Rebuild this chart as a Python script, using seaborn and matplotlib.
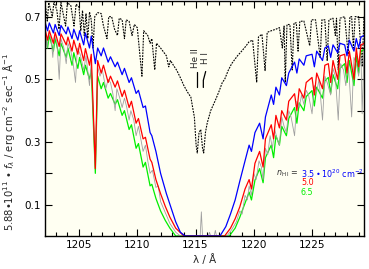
import matplotlib
matplotlib.use("Agg")
import matplotlib.pyplot as plt
import seaborn as sns
from matplotlib.ticker import FixedLocator, MultipleLocator, FuncFormatter

# ---------------- data (local extrema) ----------------
blue_pts = [(1202.08, 0.683), (1202.3, 0.655), (1202.45, 0.68), (1202.8, 0.648), (1202.95, 0.675),
            (1203.3, 0.64), (1203.45, 0.672), (1203.9, 0.645), (1204.05, 0.667), (1204.4, 0.63),
            (1204.55, 0.66), (1204.9, 0.625), (1205.05, 0.655), (1205.4, 0.61), (1205.55, 0.648),
            (1205.9, 0.60), (1206.05, 0.638), (1206.4, 0.55), (1206.6, 0.60), (1206.9, 0.575),
            (1207.1, 0.60), (1207.5, 0.555), (1207.7, 0.572), (1208.1, 0.54), (1208.3, 0.555),
            (1208.7, 0.515), (1208.9, 0.535), (1209.3, 0.49), (1209.5, 0.505), (1209.9, 0.455),
            (1210.1, 0.465), (1210.5, 0.41), (1210.7, 0.415), (1211.1, 0.33), (1211.25, 0.32),
            (1211.6, 0.27), (1212.0, 0.20), (1212.5, 0.135), (1212.9, 0.09), (1213.3, 0.045),
            (1213.7, 0.012), (1214.1, 0.0), (1217.1, 0.0), (1217.6, 0.03), (1218.0, 0.07),
            (1218.4, 0.115), (1218.8, 0.175), (1219.25, 0.24), (1219.6, 0.29), (1219.8, 0.27),
            (1220.1, 0.33), (1220.5, 0.36), (1220.8, 0.31), (1221.0, 0.38), (1221.5, 0.45),
            (1221.7, 0.42), (1221.9, 0.475), (1222.2, 0.45), (1222.4, 0.505), (1222.8, 0.48),
            (1223.0, 0.52), (1223.5, 0.555), (1223.7, 0.52), (1223.9, 0.565), (1224.3, 0.545),
            (1224.5, 0.575), (1225.0, 0.58), (1225.2, 0.54), (1225.4, 0.59), (1225.9, 0.56),
            (1226.1, 0.60), (1226.4, 0.607), (1226.6, 0.57), (1226.8, 0.61), (1227.2, 0.585),
            (1227.4, 0.615), (1227.8, 0.61), (1228.0, 0.575), (1228.2, 0.625), (1228.6, 0.59),
            (1228.8, 0.63), (1229.0, 0.60), (1229.2, 0.635), (1229.46, 0.64)]

red_pts = [(1202.08, 0.66), (1202.3, 0.625), (1202.45, 0.655), (1202.8, 0.615), (1202.95, 0.65),
           (1203.3, 0.605), (1203.45, 0.645), (1203.9, 0.61), (1204.05, 0.635), (1204.4, 0.59),
           (1204.55, 0.625), (1204.9, 0.58), (1205.05, 0.615), (1205.4, 0.56), (1205.55, 0.598),
           (1205.9, 0.545), (1206.05, 0.58), (1206.4, 0.215), (1206.6, 0.56), (1206.9, 0.52),
           (1207.1, 0.545), (1207.5, 0.49), (1207.7, 0.51), (1208.1, 0.475), (1208.3, 0.495),
           (1208.7, 0.445), (1208.9, 0.465), (1209.3, 0.41), (1209.5, 0.43), (1209.9, 0.36),
           (1210.1, 0.375), (1210.5, 0.31), (1210.7, 0.315), (1211.1, 0.245), (1211.25, 0.235),
           (1211.6, 0.18), (1212.0, 0.135), (1212.4, 0.095), (1212.8, 0.06), (1213.3, 0.025),
           (1214.0, 0.0), (1217.5, 0.0), (1218.0, 0.025), (1218.4, 0.055), (1218.8, 0.093),
           (1219.25, 0.15), (1219.6, 0.18), (1219.8, 0.15), (1220.1, 0.232), (1220.5, 0.27),
           (1220.8, 0.22), (1221.0, 0.31), (1221.5, 0.355), (1221.7, 0.31), (1221.9, 0.385),
           (1222.2, 0.345), (1222.4, 0.40), (1222.8, 0.37), (1223.0, 0.43), (1223.5, 0.454),
           (1223.7, 0.40), (1223.9, 0.47), (1224.3, 0.44), (1224.5, 0.49), (1225.0, 0.506),
           (1225.2, 0.45), (1225.4, 0.52), (1225.9, 0.47), (1226.1, 0.545), (1226.4, 0.55),
           (1226.6, 0.49), (1226.8, 0.56), (1227.2, 0.50), (1227.4, 0.575), (1227.8, 0.58),
           (1228.0, 0.52), (1228.2, 0.59), (1228.6, 0.50), (1228.8, 0.60), (1229.0, 0.54),
           (1229.2, 0.61), (1229.46, 0.615)]

green_pts = [(1202.08, 0.645), (1202.3, 0.60), (1202.45, 0.64), (1202.8, 0.59), (1202.95, 0.63),
             (1203.3, 0.575), (1203.45, 0.615), (1203.9, 0.57), (1204.05, 0.60), (1204.4, 0.545),
             (1204.55, 0.585), (1204.9, 0.535), (1205.05, 0.57), (1205.4, 0.515), (1205.55, 0.545),
             (1205.9, 0.50), (1206.05, 0.53), (1206.4, 0.20), (1206.6, 0.51), (1206.9, 0.47),
             (1207.1, 0.49), (1207.5, 0.44), (1207.7, 0.455), (1208.1, 0.42), (1208.3, 0.435),
             (1208.7, 0.385), (1208.9, 0.40), (1209.3, 0.34), (1209.5, 0.355), (1209.9, 0.28),
             (1210.1, 0.295), (1210.5, 0.22), (1210.7, 0.235), (1211.1, 0.16), (1211.25, 0.165),
             (1211.6, 0.12), (1212.0, 0.08), (1212.4, 0.05), (1212.8, 0.025), (1213.3, 0.0),
             (1217.9, 0.0), (1218.4, 0.025), (1218.8, 0.06), (1219.25, 0.105), (1219.6, 0.14),
             (1219.8, 0.115), (1220.1, 0.178), (1220.5, 0.215), (1220.8, 0.17), (1221.0, 0.25),
             (1221.5, 0.29), (1221.7, 0.25), (1221.9, 0.32), (1222.2, 0.29), (1222.4, 0.35),
             (1222.8, 0.32), (1223.0, 0.375), (1223.5, 0.41), (1223.7, 0.36), (1223.9, 0.425),
             (1224.3, 0.40), (1224.5, 0.445), (1225.0, 0.464), (1225.2, 0.415), (1225.4, 0.475),
             (1225.9, 0.44), (1226.1, 0.495), (1226.4, 0.506), (1226.6, 0.455), (1226.8, 0.515),
             (1227.2, 0.47), (1227.4, 0.535), (1227.8, 0.55), (1228.0, 0.49), (1228.2, 0.56),
             (1228.6, 0.48), (1228.8, 0.575), (1229.0, 0.52), (1229.2, 0.59), (1229.46, 0.595)]

obs_pts = [(1202.08, 0.655), (1202.25, 0.60), (1202.4, 0.645), (1202.6, 0.63), (1202.75, 0.57),
           (1202.9, 0.64), (1203.1, 0.62), (1203.3, 0.50), (1203.45, 0.63), (1203.7, 0.60),
           (1203.9, 0.55), (1204.05, 0.615), (1204.3, 0.59), (1204.5, 0.55), (1204.7, 0.49),
           (1204.85, 0.60), (1205.1, 0.58), (1205.4, 0.53), (1205.6, 0.575), (1205.9, 0.48),
           (1206.05, 0.56), (1206.4, 0.22), (1206.6, 0.54), (1206.8, 0.51), (1207.0, 0.53),
           (1207.3, 0.47), (1207.5, 0.50), (1207.7, 0.49), (1207.9, 0.455), (1208.1, 0.40),
           (1208.25, 0.47), (1208.5, 0.44), (1208.7, 0.41), (1208.9, 0.44), (1209.1, 0.41),
           (1209.3, 0.37), (1209.45, 0.40), (1209.7, 0.37), (1209.9, 0.32), (1210.1, 0.35),
           (1210.3, 0.31), (1210.5, 0.27), (1210.7, 0.29), (1210.9, 0.24), (1211.1, 0.20),
           (1211.3, 0.21), (1211.6, 0.155), (1211.8, 0.16), (1212.0, 0.11), (1212.4, 0.075),
           (1212.8, 0.04), (1213.3, 0.012), (1213.7, 0.0), (1215.4, 0.0), (1215.5, 0.077),
           (1215.6, 0.0), (1216.1, 0.0), (1216.2, 0.012), (1216.3, 0.0), (1216.6, 0.0),
           (1216.7, 0.018), (1216.8, 0.0), (1217.7, 0.0), (1218.1, 0.02), (1218.5, 0.045),
           (1218.8, 0.08), (1219.0, 0.07), (1219.25, 0.13), (1219.45, 0.115), (1219.6, 0.16),
           (1219.8, 0.13), (1220.0, 0.20), (1220.2, 0.18), (1220.45, 0.24), (1220.65, 0.22),
           (1220.8, 0.18), (1221.0, 0.28), (1221.2, 0.26), (1221.4, 0.32), (1221.6, 0.28),
           (1221.8, 0.34), (1222.0, 0.31), (1222.2, 0.29), (1222.4, 0.38), (1222.6, 0.35),
           (1222.8, 0.33), (1223.0, 0.40), (1223.2, 0.38), (1223.5, 0.32), (1223.7, 0.43),
           (1223.9, 0.41), (1224.1, 0.45), (1224.3, 0.42), (1224.5, 0.465), (1224.7, 0.45),
           (1225.0, 0.39), (1225.2, 0.48), (1225.4, 0.46), (1225.6, 0.50), (1225.9, 0.37),
           (1226.1, 0.51), (1226.3, 0.49), (1226.6, 0.45), (1226.8, 0.535), (1227.0, 0.51),
           (1227.25, 0.37), (1227.45, 0.55), (1227.7, 0.53), (1227.9, 0.48), (1228.1, 0.56),
           (1228.4, 0.38), (1228.6, 0.57), (1228.8, 0.55), (1229.0, 0.51), (1229.2, 0.58),
           (1229.3, 0.39), (1229.46, 0.59)]

nolya_pts = [(1202.08, 0.745), (1202.28, 0.686), (1202.4, 0.745), (1202.71, 0.70), (1202.85, 0.748),
             (1203.1, 0.72), (1203.28, 0.66), (1203.45, 0.745), (1203.85, 0.67), (1204.0, 0.745),
             (1204.3, 0.735), (1204.57, 0.67), (1204.75, 0.74), (1205.0, 0.73), (1205.15, 0.655),
             (1205.3, 0.72), (1205.45, 0.64), (1205.6, 0.71), (1205.75, 0.63), (1205.9, 0.715),
             (1206.05, 0.69), (1206.2, 0.60), (1206.35, 0.70), (1206.6, 0.713), (1206.9, 0.71),
             (1207.1, 0.67), (1207.4, 0.63), (1207.55, 0.70), (1207.8, 0.70), (1208.05, 0.66),
             (1208.3, 0.64), (1208.45, 0.695), (1208.7, 0.69), (1208.9, 0.63), (1209.05, 0.69),
             (1209.3, 0.685), (1209.55, 0.64), (1209.75, 0.675), (1210.0, 0.665), (1210.4, 0.51),
             (1210.55, 0.655), (1210.9, 0.64), (1211.1, 0.615), (1211.25, 0.63), (1211.5, 0.53),
             (1211.65, 0.615), (1212.0, 0.60), (1212.3, 0.585), (1212.5, 0.575), (1212.7, 0.54),
             (1212.85, 0.56), (1213.1, 0.545), (1213.4, 0.528), (1213.7, 0.505), (1214.0, 0.48),
             (1214.3, 0.46), (1214.6, 0.443), (1214.8, 0.40), (1214.9, 0.38), (1215.05, 0.29),
             (1215.15, 0.265), (1215.3, 0.33), (1215.45, 0.34), (1215.6, 0.28), (1215.7, 0.265),
             (1215.85, 0.33), (1216.0, 0.36), (1216.3, 0.40), (1216.7, 0.433), (1217.0, 0.46),
             (1217.3, 0.49), (1217.5, 0.50), (1217.8, 0.528), (1218.1, 0.55), (1218.4, 0.565),
             (1218.6, 0.575), (1218.96, 0.59), (1219.3, 0.605), (1219.6, 0.62), (1219.9, 0.625),
             (1220.25, 0.49), (1220.4, 0.635), (1220.7, 0.644), (1220.97, 0.528), (1221.15, 0.65),
             (1221.5, 0.655), (1221.9, 0.66), (1222.2, 0.665), (1222.45, 0.60), (1222.6, 0.67),
             (1222.7, 0.49), (1222.85, 0.675), (1223.1, 0.675), (1223.3, 0.53), (1223.45, 0.68),
             (1223.65, 0.68), (1223.8, 0.59), (1223.95, 0.685), (1224.3, 0.686), (1224.8, 0.607),
             (1224.95, 0.69), (1225.3, 0.69), (1225.7, 0.57), (1225.85, 0.69), (1226.1, 0.69),
             (1226.3, 0.56), (1226.45, 0.69), (1226.8, 0.695), (1227.0, 0.64), (1227.1, 0.695),
             (1227.25, 0.53), (1227.4, 0.695), (1227.8, 0.70), (1228.1, 0.58), (1228.25, 0.70),
             (1228.4, 0.70), (1228.55, 0.60), (1228.7, 0.70), (1229.0, 0.70), (1229.3, 0.54),
             (1229.46, 0.70)]

x_ticks = [1205, 1210, 1215, 1220, 1225]
y_ticks = [0.1, 0.2, 0.3, 0.4, 0.5, 0.6, 0.7]
y_labeled = [0.1, 0.3, 0.5, 0.7]
nh_labels = ["3.5\u2009\u2022\u200910$^{20}$ cm$^{-2}$", "5.0", "6.5"]
heii_wl = 1215.14
hi_wl = 1215.67

# ---------------- style ----------------
sns.set_theme(style="ticks")
plt.rcParams['font.family'] = ['DejaVu Sans']
plt.rcParams['mathtext.fontset'] = 'dejavusans'

BLUE, RED, GREEN, GRAY = '#0000ff', '#ff0000', '#00ee00', '#a0a0a0'

fig = plt.figure(figsize=(3.69, 2.69), dpi=100)
ax = fig.add_axes([45/369, 33/269, 319/369, 235/269])
ax.set_facecolor('#fffff2')


def draw(pts, **kw):
    xs = [p[0] for p in pts]
    ys = [p[1] for p in pts]
    sns.lineplot(x=xs, y=ys, ax=ax, sort=False, estimator=None, **kw)


draw(nolya_pts, color='black', lw=0.8, linestyle=(0, (1.6, 1.0)))
draw(green_pts, color=GREEN, lw=0.9)
draw(obs_pts, color=GRAY, lw=0.6)
draw(red_pts, color=RED, lw=0.9)
draw(blue_pts, color=BLUE, lw=0.9)

ax.set_xlim(1202.08, 1229.46)
ax.set_ylim(0.0, 0.75)

ax.xaxis.set_major_locator(FixedLocator(x_ticks))
ax.xaxis.set_minor_locator(MultipleLocator(1))
ax.yaxis.set_major_locator(FixedLocator(y_ticks))
ax.yaxis.set_major_formatter(FuncFormatter(
    lambda v, p: (f"{v:.1f}" if any(abs(v - t) < 1e-6 for t in y_labeled) else "")))
ax.tick_params(which='both', direction='in', top=True, right=True, colors='black',
               labelsize=7.5, width=0.8, pad=3)
ax.tick_params(which='major', length=5)
ax.tick_params(which='minor', length=3)
for s in ax.spines.values():
    s.set_linewidth(1.0)
    s.set_color('black')

ax.set_xlabel("\u03bb / \u00c5", fontsize=7.5, labelpad=3)
ax.set_ylabel("5.88\u202210$^{11}$ \u2022 $f_\\lambda$ / erg cm$^{-2}$ sec$^{-1}$ \u00c5$^{-1}$",
              fontsize=7.2)
ax.yaxis.set_label_coords(-0.088, 0.40)

# line identifications
ax.text(heii_wl - 0.12, 0.568, "He II", rotation=90, fontsize=6.3, ha='center', va='center')
ax.text(hi_wl + 0.22, 0.568, "H I", rotation=90, fontsize=6.3, ha='center', va='center')
ax.plot([heii_wl, heii_wl], [0.525, 0.474], color='black', lw=0.9)
ax.plot([hi_wl + 0.2, hi_wl, hi_wl], [0.525, 0.497, 0.474], color='black', lw=0.9)

# column density labels
ax.text(1223.8, 0.200, "$n_{\\mathrm{H\\,I}}$ =", fontsize=5.8, ha='right', va='center',
        color='#333333')
for lab, col, yv in zip(nh_labels, [BLUE, RED, GREEN], [0.200, 0.170, 0.139]):
    ax.text(1224.05, yv, lab, fontsize=5.8, ha='left', va='center', color=col)

fig.savefig("out.png", dpi=100)
